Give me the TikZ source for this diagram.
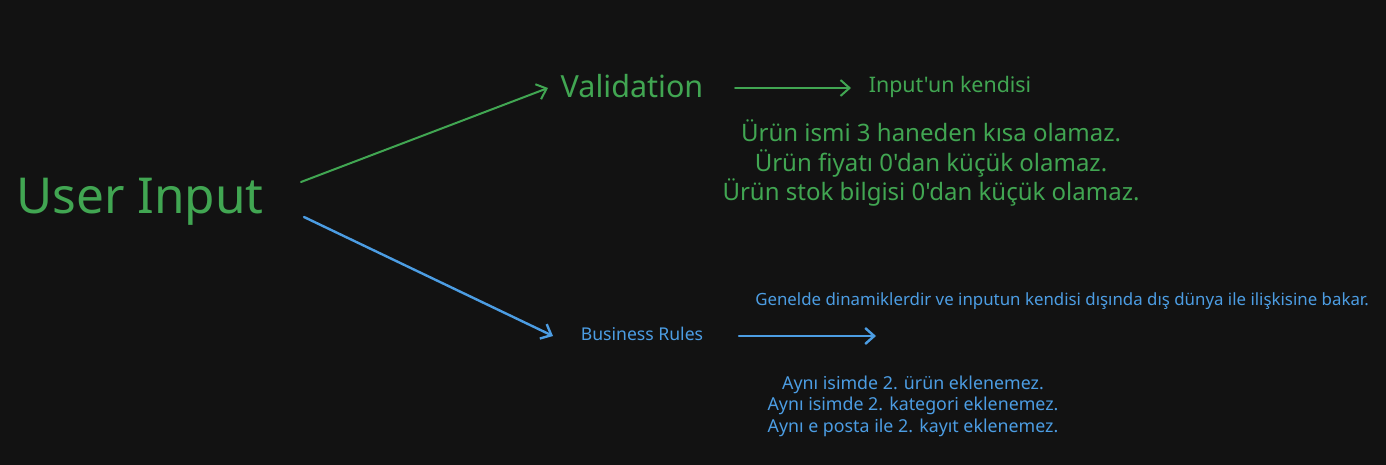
\documentclass[tikz,border=0pt]{standalone}
\usepackage{fontspec}
\setmainfont{Noto Sans}[Ligatures=TeXOff]
\usetikzlibrary{arrows.meta}
\definecolor{bgc}{HTML}{121212}
\definecolor{gr}{HTML}{41A652}
\definecolor{bl}{HTML}{4C9DE3}
\tikzset{
  gtxt/.style={text=gr, inner sep=0pt, anchor=center},
  btxt/.style={text=bl, inner sep=0pt, anchor=center},
  garrow/.style={draw=gr, line width=2pt, line cap=round, -{Straight Barb[length=9pt,width=16pt,line width=2pt]}},
  barrow/.style={draw=bl, line width=2.4pt, line cap=round, -{Straight Barb[length=9pt,width=16pt,line width=2.4pt]}},
}
\begin{document}
\begin{tikzpicture}[x=1pt,y=-1pt]
\fill[bgc] (0,0) rectangle (1386,465);
\useasboundingbox (0,0) rectangle (1386,465);

\node[gtxt, font=\fontsize{49.5}{52}\selectfont] (ui) at (140,202) {User Input};
\node[gtxt, font=\fontsize{30.5}{33}\selectfont] (val) at (632,86) {Validation};
\node[gtxt, font=\fontsize{21.4}{24}\selectfont] (ink) at (950,87) {Input'un kendisi};
\node[gtxt, font=\fontsize{24}{29.5}\selectfont, align=center] (vrules) at (931,163)
  {Ürün ismi 3 haneden kısa olamaz.\\Ürün fiyatı 0'dan küçük olamaz.\\Ürün stok bilgisi 0'dan küçük olamaz.};

\node[btxt, font=\fontsize{17.6}{20}\selectfont] (br) at (642,334) {Business Rules};
\node[btxt, font=\fontsize{16.85}{19}\selectfont] (gen) at (1062,301) {Genelde dinamiklerdir ve inputun kendisi dışında dış dünya ile ilişkisine bakar.};
\node[btxt, font=\fontsize{17.8}{21.5}\selectfont, align=center] (brules) at (913,406)
  {Aynı isimde 2. ürün eklenemez.\\Aynı isimde 2. kategori eklenemez.\\Aynı e posta ile 2. kayıt eklenemez.};

\coordinate (g1s) at (301,182);
\coordinate (g1e) at (548,88);
\coordinate (g2s) at (735,88);
\coordinate (g2e) at (851,88);
\coordinate (b1s) at (304,217);
\coordinate (b1e) at (553,336);
\coordinate (b2s) at (739,336);
\coordinate (b2e) at (876,336);

\draw[garrow] (g1s) -- (g1e);
\draw[garrow] (g2s) -- (g2e);
\draw[barrow] (b1s) -- (b1e);
\draw[barrow] (b2s) -- (b2e);
\end{tikzpicture}
\end{document}
